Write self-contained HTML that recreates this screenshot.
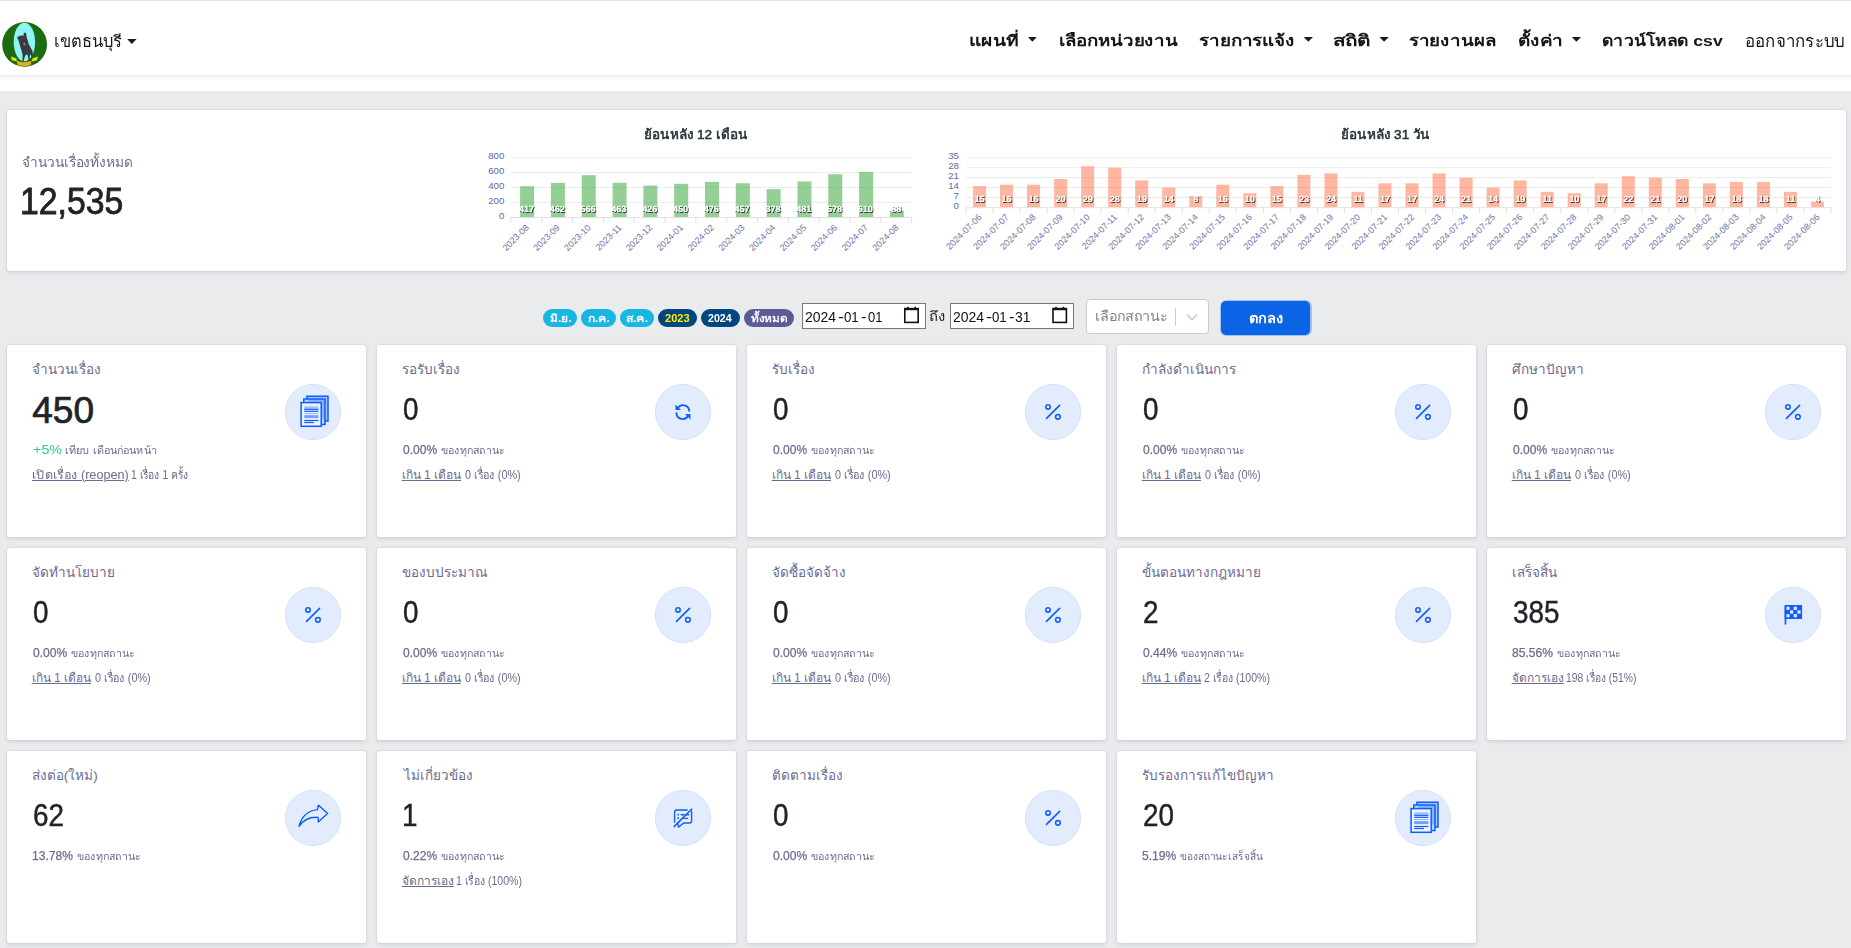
<!DOCTYPE html><html><head><meta charset="utf-8"><title>Dashboard</title><style>
*{box-sizing:border-box}
html,body{margin:0;padding:0}
body{width:1851px;height:948px;overflow:hidden;position:relative;background:#eaebed;font-family:"Liberation Sans",sans-serif}
.t{position:absolute;line-height:0;white-space:nowrap;transform-origin:0 0}
.abs{position:absolute}
.card{position:absolute;background:#fff;border-radius:2.8px;box-shadow:0 0 0 1px rgba(67,89,113,0.05),0 1.5px 4px rgba(67,89,113,0.14)}
.badge{position:absolute;height:18px;top:309px;border-radius:9px}
svg text{font-family:"Liberation Sans",sans-serif}
.ax{font-size:9px;fill:#6f73a6}
.ay{font-size:9.7px;fill:#63679b}
.dl{font-size:9px;font-weight:700;fill:#fff;text-rendering:geometricPrecision}
</style></head><body>
<div class="abs" style="left:0;top:0;width:1851px;height:91px;background:#fff"></div>
<div class="abs" style="left:0;top:0;width:1851px;height:1.3px;background:#e4e4e4"></div>
<div class="abs" style="left:0;top:75px;width:1851px;height:5px;background:linear-gradient(#eeeeee,#ffffff)"></div>
<div class="card" style="left:7px;top:110px;width:1839px;height:161px"></div>
<div class="card" style="left:7px;top:345px;width:359px;height:192px"></div>
<div class="card" style="left:377px;top:345px;width:359px;height:192px"></div>
<div class="card" style="left:747px;top:345px;width:359px;height:192px"></div>
<div class="card" style="left:1117px;top:345px;width:359px;height:192px"></div>
<div class="card" style="left:1487px;top:345px;width:359px;height:192px"></div>
<div class="card" style="left:7px;top:548px;width:359px;height:192px"></div>
<div class="card" style="left:377px;top:548px;width:359px;height:192px"></div>
<div class="card" style="left:747px;top:548px;width:359px;height:192px"></div>
<div class="card" style="left:1117px;top:548px;width:359px;height:192px"></div>
<div class="card" style="left:1487px;top:548px;width:359px;height:192px"></div>
<div class="card" style="left:7px;top:751px;width:359px;height:192px"></div>
<div class="card" style="left:377px;top:751px;width:359px;height:192px"></div>
<div class="card" style="left:747px;top:751px;width:359px;height:192px"></div>
<div class="card" style="left:1117px;top:751px;width:359px;height:192px"></div>
<div class="badge" style="left:542.9px;width:34.1px;background:#17b6e3"></div>
<div class="badge" style="left:581.0px;width:34.9px;background:#17b6e3"></div>
<div class="badge" style="left:620.0px;width:33.9px;background:#17b6e3"></div>
<div class="badge" style="left:658.1px;width:38.7px;background:#00477f"></div>
<div class="badge" style="left:701.0px;width:39.0px;background:#00477f"></div>
<div class="badge" style="left:744.0px;width:50.1px;background:#5b5c97"></div>
<div class="abs" style="left:802px;top:303.2px;width:123.6px;height:25.5px;background:#fff;border:1px solid #767676"></div>
<div class="abs" style="left:950.2px;top:303.2px;width:123.7px;height:25.5px;background:#fff;border:1px solid #767676"></div>
<div class="abs" style="left:1086.2px;top:299.4px;width:123.3px;height:34.4px;background:#fff;border:1px solid #cccccc;border-radius:4px"></div>
<div class="abs" style="left:1175px;top:308.2px;width:1px;height:17.5px;background:#cccccc"></div>
<div class="abs" style="left:1219.6px;top:299.6px;width:92px;height:36.6px;border-radius:6.5px;background:rgba(13,110,253,0.33)"></div>
<div class="abs" style="left:1221px;top:301px;width:89.2px;height:33.8px;border-radius:5px;background:#0b63e5"></div>
<div class="t" style="left:54.20px;top:40.88px;font-size:16.5px;color:#161616;transform:scaleX(0.9970);">เขตธนบุรี</div>
<div class="t" style="left:968.86px;top:41.33px;font-size:15.5px;font-weight:700;color:#161616;transform:scaleX(1.2385);">แผนที่</div>
<div class="t" style="left:1058.70px;top:41.33px;font-size:15.5px;font-weight:700;color:#161616;transform:scaleX(1.2041);">เลือกหน่วยงาน</div>
<div class="t" style="left:1198.69px;top:41.33px;font-size:15.5px;font-weight:700;color:#161616;transform:scaleX(1.2143);">รายการแจ้ง</div>
<div class="t" style="left:1333.36px;top:41.33px;font-size:15.5px;font-weight:700;color:#161616;transform:scaleX(1.3385);">สถิติ</div>
<div class="t" style="left:1409.49px;top:41.33px;font-size:15.5px;font-weight:700;color:#161616;transform:scaleX(1.2056);">รายงานผล</div>
<div class="t" style="left:1518.28px;top:41.33px;font-size:15.5px;font-weight:700;color:#161616;transform:scaleX(1.2229);">ตั้งค่า</div>
<div class="t" style="left:1602.46px;top:41.33px;font-size:15.5px;font-weight:700;color:#161616;transform:scaleX(1.1371);">ดาวน์โหลด csv</div>
<div class="t" style="left:1744.78px;top:40.98px;font-size:16.5px;color:#161616;transform:scaleX(1.0229);">ออกจากระบบ</div>
<div class="t" style="left:21.61px;top:163.42px;font-size:13.8px;color:#6b6b92;transform:scaleX(0.9918);">จำนวนเรื่องทั้งหมด</div>
<div class="t" style="left:20.26px;top:201.88px;font-size:37px;color:#202328;transform:scaleX(0.9128);-webkit-text-stroke:0.8px #202328;">12,535</div>
<div class="t" style="left:644.37px;top:134.83px;font-size:13.2px;color:#263238;transform:scaleX(1.0260);-webkit-text-stroke:0.5px #263238;">ย้อนหลัง 12 เดือน</div>
<div class="t" style="left:1341.17px;top:134.83px;font-size:13.2px;color:#263238;transform:scaleX(1.0282);-webkit-text-stroke:0.5px #263238;">ย้อนหลัง 31 วัน</div>
<div class="t" style="left:549.70px;top:318.16px;font-size:10.5px;font-weight:700;color:#fff;transform:scaleX(1.1389);">มิ.ย.</div>
<div class="t" style="left:587.95px;top:318.16px;font-size:10.5px;font-weight:700;color:#fff;transform:scaleX(1.1667);">ก.ค.</div>
<div class="t" style="left:625.77px;top:318.16px;font-size:10.5px;font-weight:700;color:#fff;transform:scaleX(1.1765);">ส.ค.</div>
<div class="t" style="left:665.30px;top:318.16px;font-size:10.5px;font-weight:700;color:#ffec00;transform:scaleX(1.0565);">2023</div>
<div class="t" style="left:708.30px;top:318.16px;font-size:10.5px;font-weight:700;color:#fff;transform:scaleX(1.0167);">2024</div>
<div class="t" style="left:751.15px;top:318.16px;font-size:10.5px;font-weight:700;color:#fff;transform:scaleX(1.1187);">ทั้งหมด</div>
<div class="t" style="left:804.90px;top:316.95px;font-size:14px;color:#111;transform:scaleX(0.9967);">2024</div>
<div class="t" style="left:837.50px;top:316.95px;font-size:14px;color:#111;transform:scaleX(1.3000);">-</div>
<div class="t" style="left:844.00px;top:316.95px;font-size:14px;color:#111;transform:scaleX(0.9467);">01</div>
<div class="t" style="left:860.93px;top:316.95px;font-size:14px;color:#111;transform:scaleX(1.1667);">-</div>
<div class="t" style="left:867.70px;top:316.95px;font-size:14px;color:#111;transform:scaleX(0.9267);">01</div>
<div class="t" style="left:929.30px;top:316.82px;font-size:13.5px;color:#222;transform:scaleX(1.1000);">ถึง</div>
<div class="t" style="left:953.10px;top:316.95px;font-size:14px;color:#111;transform:scaleX(0.9967);">2024</div>
<div class="t" style="left:985.70px;top:316.95px;font-size:14px;color:#111;transform:scaleX(1.3000);">-</div>
<div class="t" style="left:992.20px;top:316.95px;font-size:14px;color:#111;transform:scaleX(0.9467);">01</div>
<div class="t" style="left:1009.13px;top:316.95px;font-size:14px;color:#111;transform:scaleX(1.1667);">-</div>
<div class="t" style="left:1014.91px;top:316.95px;font-size:14px;color:#111;transform:scaleX(0.9929);">31</div>
<div class="t" style="left:1095.26px;top:317.32px;font-size:13.8px;color:#808080;transform:scaleX(1.0433);">เลือกสถานะ</div>
<div class="t" style="left:1248.55px;top:317.75px;font-size:14px;font-weight:700;color:#fff;transform:scaleX(1.0452);">ตกลง</div>
<div class="t" style="left:31.80px;top:369.62px;font-size:13.5px;color:#6b6b92;">จำนวนเรื่อง</div>
<div class="t" style="left:32.30px;top:411.18px;font-size:37px;color:#202328;-webkit-text-stroke:0.7px #202328;">450</div>
<div class="t" style="left:32.80px;top:449.50px;font-size:13px;color:#2fcb86;transform:scaleX(1.1040);">+5%</div>
<div class="t" style="left:65.28px;top:450.29px;font-size:10.7px;color:#6b6b92;transform:scaleX(1.0216);">เทียบ เดือนก่อนหน้า</div>
<div class="t" style="left:31.64px;top:475.14px;font-size:12px;color:#6b6b92;transform:scaleX(1.0556);text-decoration:underline;text-underline-offset:1px;text-decoration-thickness:1px;">เปิดเรื่อง (reopen)</div>
<div class="t" style="left:131.14px;top:475.14px;font-size:12px;color:#6b6b92;transform:scaleX(0.8641);">1 เรื่อง 1 ครั้ง</div>
<div class="t" style="left:401.80px;top:369.62px;font-size:13.5px;color:#6b6b92;">รอรับเรื่อง</div>
<div class="t" style="left:402.59px;top:409.30px;font-size:30.6px;color:#202328;transform:scaleX(0.9100);-webkit-text-stroke:0.45px #202328;">0</div>
<div class="t" style="left:402.80px;top:449.80px;font-size:12.7px;color:#6b6b92;transform:scaleX(0.9500);-webkit-text-stroke:0.25px #6b6b92;">0.00%</div>
<div class="t" style="left:441.30px;top:450.63px;font-size:10.3px;color:#6b6b92;transform:scaleX(1.0361);">ของทุกสถานะ</div>
<div class="t" style="left:401.70px;top:475.14px;font-size:12px;color:#6b6b92;text-decoration:underline;text-underline-offset:1px;text-decoration-thickness:1px;">เกิน 1 เดือน</div>
<div class="t" style="left:465.00px;top:475.14px;font-size:12px;color:#6b6b92;transform:scaleX(0.9033);">0 เรื่อง (0%)</div>
<div class="t" style="left:771.80px;top:369.62px;font-size:13.5px;color:#6b6b92;">รับเรื่อง</div>
<div class="t" style="left:772.59px;top:409.30px;font-size:30.6px;color:#202328;transform:scaleX(0.9100);-webkit-text-stroke:0.45px #202328;">0</div>
<div class="t" style="left:772.80px;top:449.80px;font-size:12.7px;color:#6b6b92;transform:scaleX(0.9500);-webkit-text-stroke:0.25px #6b6b92;">0.00%</div>
<div class="t" style="left:811.30px;top:450.63px;font-size:10.3px;color:#6b6b92;transform:scaleX(1.0361);">ของทุกสถานะ</div>
<div class="t" style="left:771.70px;top:475.14px;font-size:12px;color:#6b6b92;text-decoration:underline;text-underline-offset:1px;text-decoration-thickness:1px;">เกิน 1 เดือน</div>
<div class="t" style="left:835.00px;top:475.14px;font-size:12px;color:#6b6b92;transform:scaleX(0.9033);">0 เรื่อง (0%)</div>
<div class="t" style="left:1141.80px;top:369.62px;font-size:13.5px;color:#6b6b92;">กำลังดำเนินการ</div>
<div class="t" style="left:1142.59px;top:409.30px;font-size:30.6px;color:#202328;transform:scaleX(0.9100);-webkit-text-stroke:0.45px #202328;">0</div>
<div class="t" style="left:1142.80px;top:449.80px;font-size:12.7px;color:#6b6b92;transform:scaleX(0.9500);-webkit-text-stroke:0.25px #6b6b92;">0.00%</div>
<div class="t" style="left:1181.30px;top:450.63px;font-size:10.3px;color:#6b6b92;transform:scaleX(1.0361);">ของทุกสถานะ</div>
<div class="t" style="left:1141.70px;top:475.14px;font-size:12px;color:#6b6b92;text-decoration:underline;text-underline-offset:1px;text-decoration-thickness:1px;">เกิน 1 เดือน</div>
<div class="t" style="left:1205.00px;top:475.14px;font-size:12px;color:#6b6b92;transform:scaleX(0.9033);">0 เรื่อง (0%)</div>
<div class="t" style="left:1511.80px;top:369.62px;font-size:13.5px;color:#6b6b92;">ศึกษาปัญหา</div>
<div class="t" style="left:1512.59px;top:409.30px;font-size:30.6px;color:#202328;transform:scaleX(0.9100);-webkit-text-stroke:0.45px #202328;">0</div>
<div class="t" style="left:1512.80px;top:449.80px;font-size:12.7px;color:#6b6b92;transform:scaleX(0.9500);-webkit-text-stroke:0.25px #6b6b92;">0.00%</div>
<div class="t" style="left:1551.30px;top:450.63px;font-size:10.3px;color:#6b6b92;transform:scaleX(1.0361);">ของทุกสถานะ</div>
<div class="t" style="left:1511.70px;top:475.14px;font-size:12px;color:#6b6b92;text-decoration:underline;text-underline-offset:1px;text-decoration-thickness:1px;">เกิน 1 เดือน</div>
<div class="t" style="left:1575.00px;top:475.14px;font-size:12px;color:#6b6b92;transform:scaleX(0.9033);">0 เรื่อง (0%)</div>
<div class="t" style="left:31.80px;top:572.62px;font-size:13.5px;color:#6b6b92;">จัดทำนโยบาย</div>
<div class="t" style="left:32.59px;top:612.30px;font-size:30.6px;color:#202328;transform:scaleX(0.9100);-webkit-text-stroke:0.45px #202328;">0</div>
<div class="t" style="left:32.80px;top:652.80px;font-size:12.7px;color:#6b6b92;transform:scaleX(0.9500);-webkit-text-stroke:0.25px #6b6b92;">0.00%</div>
<div class="t" style="left:71.30px;top:653.63px;font-size:10.3px;color:#6b6b92;transform:scaleX(1.0361);">ของทุกสถานะ</div>
<div class="t" style="left:31.70px;top:678.14px;font-size:12px;color:#6b6b92;text-decoration:underline;text-underline-offset:1px;text-decoration-thickness:1px;">เกิน 1 เดือน</div>
<div class="t" style="left:95.00px;top:678.14px;font-size:12px;color:#6b6b92;transform:scaleX(0.9033);">0 เรื่อง (0%)</div>
<div class="t" style="left:401.80px;top:572.62px;font-size:13.5px;color:#6b6b92;">ของบประมาณ</div>
<div class="t" style="left:402.59px;top:612.30px;font-size:30.6px;color:#202328;transform:scaleX(0.9100);-webkit-text-stroke:0.45px #202328;">0</div>
<div class="t" style="left:402.80px;top:652.80px;font-size:12.7px;color:#6b6b92;transform:scaleX(0.9500);-webkit-text-stroke:0.25px #6b6b92;">0.00%</div>
<div class="t" style="left:441.30px;top:653.63px;font-size:10.3px;color:#6b6b92;transform:scaleX(1.0361);">ของทุกสถานะ</div>
<div class="t" style="left:401.70px;top:678.14px;font-size:12px;color:#6b6b92;text-decoration:underline;text-underline-offset:1px;text-decoration-thickness:1px;">เกิน 1 เดือน</div>
<div class="t" style="left:465.00px;top:678.14px;font-size:12px;color:#6b6b92;transform:scaleX(0.9033);">0 เรื่อง (0%)</div>
<div class="t" style="left:771.80px;top:572.62px;font-size:13.5px;color:#6b6b92;">จัดซื้อจัดจ้าง</div>
<div class="t" style="left:772.59px;top:612.30px;font-size:30.6px;color:#202328;transform:scaleX(0.9100);-webkit-text-stroke:0.45px #202328;">0</div>
<div class="t" style="left:772.80px;top:652.80px;font-size:12.7px;color:#6b6b92;transform:scaleX(0.9500);-webkit-text-stroke:0.25px #6b6b92;">0.00%</div>
<div class="t" style="left:811.30px;top:653.63px;font-size:10.3px;color:#6b6b92;transform:scaleX(1.0361);">ของทุกสถานะ</div>
<div class="t" style="left:771.70px;top:678.14px;font-size:12px;color:#6b6b92;text-decoration:underline;text-underline-offset:1px;text-decoration-thickness:1px;">เกิน 1 เดือน</div>
<div class="t" style="left:835.00px;top:678.14px;font-size:12px;color:#6b6b92;transform:scaleX(0.9033);">0 เรื่อง (0%)</div>
<div class="t" style="left:1141.80px;top:572.62px;font-size:13.5px;color:#6b6b92;">ขั้นตอนทางกฎหมาย</div>
<div class="t" style="left:1142.59px;top:612.30px;font-size:30.6px;color:#202328;transform:scaleX(0.9100);-webkit-text-stroke:0.45px #202328;">2</div>
<div class="t" style="left:1142.80px;top:652.80px;font-size:12.7px;color:#6b6b92;transform:scaleX(0.9500);-webkit-text-stroke:0.25px #6b6b92;">0.44%</div>
<div class="t" style="left:1181.30px;top:653.63px;font-size:10.3px;color:#6b6b92;transform:scaleX(1.0361);">ของทุกสถานะ</div>
<div class="t" style="left:1141.70px;top:678.14px;font-size:12px;color:#6b6b92;text-decoration:underline;text-underline-offset:1px;text-decoration-thickness:1px;">เกิน 1 เดือน</div>
<div class="t" style="left:1204.12px;top:678.14px;font-size:12px;color:#6b6b92;transform:scaleX(0.8800);">2 เรื่อง (100%)</div>
<div class="t" style="left:1511.80px;top:572.62px;font-size:13.5px;color:#6b6b92;">เสร็จสิ้น</div>
<div class="t" style="left:1512.59px;top:612.30px;font-size:30.6px;color:#202328;transform:scaleX(0.9100);-webkit-text-stroke:0.45px #202328;">385</div>
<div class="t" style="left:1511.85px;top:652.80px;font-size:12.7px;color:#6b6b92;transform:scaleX(0.9500);-webkit-text-stroke:0.25px #6b6b92;">85.56%</div>
<div class="t" style="left:1557.00px;top:653.63px;font-size:10.3px;color:#6b6b92;transform:scaleX(1.0361);">ของทุกสถานะ</div>
<div class="t" style="left:1511.70px;top:678.14px;font-size:12px;color:#6b6b92;text-decoration:underline;text-underline-offset:1px;text-decoration-thickness:1px;">จัดการเอง</div>
<div class="t" style="left:1566.14px;top:678.14px;font-size:12px;color:#6b6b92;transform:scaleX(0.8613);">198 เรื่อง (51%)</div>
<div class="t" style="left:31.80px;top:775.62px;font-size:13.5px;color:#6b6b92;">ส่งต่อ(ใหม่)</div>
<div class="t" style="left:32.59px;top:815.30px;font-size:30.6px;color:#202328;transform:scaleX(0.9100);-webkit-text-stroke:0.45px #202328;">62</div>
<div class="t" style="left:31.85px;top:855.80px;font-size:12.7px;color:#6b6b92;transform:scaleX(0.9500);-webkit-text-stroke:0.25px #6b6b92;">13.78%</div>
<div class="t" style="left:77.00px;top:856.63px;font-size:10.3px;color:#6b6b92;transform:scaleX(1.0361);">ของทุกสถานะ</div>
<div class="t" style="left:403.80px;top:775.62px;font-size:13.5px;color:#6b6b92;">ไม่เกี่ยวข้อง</div>
<div class="t" style="left:401.68px;top:815.30px;font-size:30.6px;color:#202328;transform:scaleX(0.9100);-webkit-text-stroke:0.45px #202328;">1</div>
<div class="t" style="left:402.80px;top:855.80px;font-size:12.7px;color:#6b6b92;transform:scaleX(0.9500);-webkit-text-stroke:0.25px #6b6b92;">0.22%</div>
<div class="t" style="left:441.30px;top:856.63px;font-size:10.3px;color:#6b6b92;transform:scaleX(1.0361);">ของทุกสถานะ</div>
<div class="t" style="left:401.70px;top:881.14px;font-size:12px;color:#6b6b92;text-decoration:underline;text-underline-offset:1px;text-decoration-thickness:1px;">จัดการเอง</div>
<div class="t" style="left:456.12px;top:881.14px;font-size:12px;color:#6b6b92;transform:scaleX(0.8800);">1 เรื่อง (100%)</div>
<div class="t" style="left:771.80px;top:775.62px;font-size:13.5px;color:#6b6b92;">ติดตามเรื่อง</div>
<div class="t" style="left:772.59px;top:815.30px;font-size:30.6px;color:#202328;transform:scaleX(0.9100);-webkit-text-stroke:0.45px #202328;">0</div>
<div class="t" style="left:772.80px;top:855.80px;font-size:12.7px;color:#6b6b92;transform:scaleX(0.9500);-webkit-text-stroke:0.25px #6b6b92;">0.00%</div>
<div class="t" style="left:811.30px;top:856.63px;font-size:10.3px;color:#6b6b92;transform:scaleX(1.0361);">ของทุกสถานะ</div>
<div class="t" style="left:1141.80px;top:775.62px;font-size:13.5px;color:#6b6b92;">รับรองการแก้ไขปัญหา</div>
<div class="t" style="left:1142.59px;top:815.30px;font-size:30.6px;color:#202328;transform:scaleX(0.9100);-webkit-text-stroke:0.45px #202328;">20</div>
<div class="t" style="left:1141.85px;top:855.80px;font-size:12.7px;color:#6b6b92;transform:scaleX(0.9500);-webkit-text-stroke:0.25px #6b6b92;">5.19%</div>
<div class="t" style="left:1180.35px;top:856.63px;font-size:10.3px;color:#6b6b92;transform:scaleX(0.9845);">ของสถานะเสร็จสิ้น</div>
<svg class="abs" style="left:0;top:0" width="1851" height="948" viewBox="0 0 1851 948">
<defs><filter id="ds" x="-30%" y="-50%" width="160%" height="200%"><feGaussianBlur in="SourceAlpha" stdDeviation="0.75"/><feOffset dx="1" dy="1" result="o"/><feFlood flood-color="#000" flood-opacity="0.7"/><feComposite in2="o" operator="in"/><feMerge><feMergeNode/><feMergeNode in="SourceGraphic"/></feMerge></filter></defs>
<g><circle cx="24.6" cy="44.4" r="22.4" fill="#1c6b12"/><ellipse cx="24.4" cy="42" rx="10.7" ry="19.3" fill="#8ef4f4"/><path d="M17.2 37.6 L18.4 35.6 L20.2 35.9 L22.4 35.2 L23.3 36.3 L23.6 34.8 Q23.4 32.6 25 32.6 Q26.7 32.8 26.3 34.8 L26.6 37 L27.6 40 L28.6 44 L30.6 47.5 L32.6 51.5 L32.9 55.5 L31.6 57 L30.2 54 L29.6 57.5 L30 61 L28.7 61 L27.6 55 L26.2 54.2 L24.6 57 L23.8 61 L22.4 61 L22.6 55 L21.3 50 L19.8 45 L18.8 41 L17.9 39.6 Z" fill="#3b3940"/><line x1="17.6" y1="30.5" x2="18.4" y2="37" stroke="#c8e8e8" stroke-width="0.7"/><path d="M23 44 L26 46 L24.5 42.5 Z" fill="#cfd6d8" opacity="0.6"/><path d="M11 56.4 L16.4 58.5 L17 61.5 L11.8 60.2 Z" fill="#e8e010"/><path d="M37.8 56.4 L32.4 58.5 L31.8 61.5 L37 60.2 Z" fill="#e8e010"/><path d="M16.8 60.8 Q24 63.5 31.5 60.8 L30.7 65 Q24 67 17.6 65 Z" fill="#e0b020"/></g>
<path d="M127.2 39.0H136.6L131.9 43.9Z" fill="#1a1a1a"/>
<path d="M1028.0 36.9H1036.8L1032.4 41.8Z" fill="#1a1a1a"/>
<path d="M1303.7 36.9H1313.0L1308.3 41.8Z" fill="#1a1a1a"/>
<path d="M1379.4 36.9H1388.8L1384.1 41.8Z" fill="#1a1a1a"/>
<path d="M1571.8 36.9H1581.0L1576.4 41.8Z" fill="#1a1a1a"/>
<line x1="511" y1="157.80" x2="911.6" y2="157.80" stroke="#ebebeb" stroke-width="1"/>
<line x1="511" y1="172.65" x2="911.6" y2="172.65" stroke="#ebebeb" stroke-width="1"/>
<line x1="511" y1="187.50" x2="911.6" y2="187.50" stroke="#ebebeb" stroke-width="1"/>
<line x1="511" y1="202.35" x2="911.6" y2="202.35" stroke="#ebebeb" stroke-width="1"/>
<text x="504.3" y="159.10" text-anchor="end" class="ay">800</text>
<text x="504.3" y="173.95" text-anchor="end" class="ay">600</text>
<text x="504.3" y="188.80" text-anchor="end" class="ay">400</text>
<text x="504.3" y="203.65" text-anchor="end" class="ay">200</text>
<text x="504.3" y="218.50" text-anchor="end" class="ay">0</text>
<rect x="520.11" y="186.24" width="14.00" height="30.96" fill="rgba(76,175,80,0.6)"/>
<rect x="550.92" y="182.90" width="14.00" height="34.30" fill="rgba(76,175,80,0.6)"/>
<rect x="581.74" y="175.17" width="14.00" height="42.03" fill="rgba(76,175,80,0.6)"/>
<rect x="612.55" y="182.82" width="14.00" height="34.38" fill="rgba(76,175,80,0.6)"/>
<rect x="643.37" y="185.57" width="14.00" height="31.63" fill="rgba(76,175,80,0.6)"/>
<rect x="674.18" y="183.79" width="14.00" height="33.41" fill="rgba(76,175,80,0.6)"/>
<rect x="705.00" y="181.86" width="14.00" height="35.34" fill="rgba(76,175,80,0.6)"/>
<rect x="735.82" y="183.27" width="14.00" height="33.93" fill="rgba(76,175,80,0.6)"/>
<rect x="766.63" y="189.13" width="14.00" height="28.07" fill="rgba(76,175,80,0.6)"/>
<rect x="797.45" y="181.49" width="14.00" height="35.71" fill="rgba(76,175,80,0.6)"/>
<rect x="828.26" y="174.28" width="14.00" height="42.92" fill="rgba(76,175,80,0.6)"/>
<rect x="859.08" y="171.91" width="14.00" height="45.29" fill="rgba(76,175,80,0.6)"/>
<rect x="889.89" y="210.67" width="14.00" height="6.53" fill="rgba(76,175,80,0.6)"/>
<line x1="511" y1="217.50" x2="911.6" y2="217.50" stroke="#e0e0e0" stroke-width="1"/>
<line x1="511.00" y1="217.20" x2="511.00" y2="223.20" stroke="#e0e0e0" stroke-width="1"/>
<line x1="541.82" y1="217.20" x2="541.82" y2="223.20" stroke="#e0e0e0" stroke-width="1"/>
<line x1="572.63" y1="217.20" x2="572.63" y2="223.20" stroke="#e0e0e0" stroke-width="1"/>
<line x1="603.45" y1="217.20" x2="603.45" y2="223.20" stroke="#e0e0e0" stroke-width="1"/>
<line x1="634.26" y1="217.20" x2="634.26" y2="223.20" stroke="#e0e0e0" stroke-width="1"/>
<line x1="665.08" y1="217.20" x2="665.08" y2="223.20" stroke="#e0e0e0" stroke-width="1"/>
<line x1="695.89" y1="217.20" x2="695.89" y2="223.20" stroke="#e0e0e0" stroke-width="1"/>
<line x1="726.71" y1="217.20" x2="726.71" y2="223.20" stroke="#e0e0e0" stroke-width="1"/>
<line x1="757.52" y1="217.20" x2="757.52" y2="223.20" stroke="#e0e0e0" stroke-width="1"/>
<line x1="788.34" y1="217.20" x2="788.34" y2="223.20" stroke="#e0e0e0" stroke-width="1"/>
<line x1="819.15" y1="217.20" x2="819.15" y2="223.20" stroke="#e0e0e0" stroke-width="1"/>
<line x1="849.97" y1="217.20" x2="849.97" y2="223.20" stroke="#e0e0e0" stroke-width="1"/>
<line x1="880.78" y1="217.20" x2="880.78" y2="223.20" stroke="#e0e0e0" stroke-width="1"/>
<line x1="911.60" y1="217.20" x2="911.60" y2="223.20" stroke="#e0e0e0" stroke-width="1"/>
<text x="526.41" y="211.80" text-anchor="middle" class="dl" filter="url(#ds)">417</text>
<text x="557.22" y="211.80" text-anchor="middle" class="dl" filter="url(#ds)">462</text>
<text x="588.04" y="211.80" text-anchor="middle" class="dl" filter="url(#ds)">566</text>
<text x="618.85" y="211.80" text-anchor="middle" class="dl" filter="url(#ds)">463</text>
<text x="649.67" y="211.80" text-anchor="middle" class="dl" filter="url(#ds)">426</text>
<text x="680.48" y="211.80" text-anchor="middle" class="dl" filter="url(#ds)">450</text>
<text x="711.30" y="211.80" text-anchor="middle" class="dl" filter="url(#ds)">476</text>
<text x="742.12" y="211.80" text-anchor="middle" class="dl" filter="url(#ds)">457</text>
<text x="772.93" y="211.80" text-anchor="middle" class="dl" filter="url(#ds)">378</text>
<text x="803.75" y="211.80" text-anchor="middle" class="dl" filter="url(#ds)">481</text>
<text x="834.56" y="211.80" text-anchor="middle" class="dl" filter="url(#ds)">578</text>
<text x="865.38" y="211.80" text-anchor="middle" class="dl" filter="url(#ds)">610</text>
<text x="896.19" y="211.80" text-anchor="middle" class="dl" filter="url(#ds)">88</text>
<text x="529.61" y="228.10" text-anchor="end" class="ax" transform="rotate(-45 529.61 228.10)">2023-08</text>
<text x="560.42" y="228.10" text-anchor="end" class="ax" transform="rotate(-45 560.42 228.10)">2023-09</text>
<text x="591.24" y="228.10" text-anchor="end" class="ax" transform="rotate(-45 591.24 228.10)">2023-10</text>
<text x="622.05" y="228.10" text-anchor="end" class="ax" transform="rotate(-45 622.05 228.10)">2023-11</text>
<text x="652.87" y="228.10" text-anchor="end" class="ax" transform="rotate(-45 652.87 228.10)">2023-12</text>
<text x="683.68" y="228.10" text-anchor="end" class="ax" transform="rotate(-45 683.68 228.10)">2024-01</text>
<text x="714.50" y="228.10" text-anchor="end" class="ax" transform="rotate(-45 714.50 228.10)">2024-02</text>
<text x="745.32" y="228.10" text-anchor="end" class="ax" transform="rotate(-45 745.32 228.10)">2024-03</text>
<text x="776.13" y="228.10" text-anchor="end" class="ax" transform="rotate(-45 776.13 228.10)">2024-04</text>
<text x="806.95" y="228.10" text-anchor="end" class="ax" transform="rotate(-45 806.95 228.10)">2024-05</text>
<text x="837.76" y="228.10" text-anchor="end" class="ax" transform="rotate(-45 837.76 228.10)">2024-06</text>
<text x="868.58" y="228.10" text-anchor="end" class="ax" transform="rotate(-45 868.58 228.10)">2024-07</text>
<text x="899.39" y="228.10" text-anchor="end" class="ax" transform="rotate(-45 899.39 228.10)">2024-08</text>
<line x1="966" y1="157.80" x2="1831" y2="157.80" stroke="#ebebeb" stroke-width="1"/>
<line x1="966" y1="167.72" x2="1831" y2="167.72" stroke="#ebebeb" stroke-width="1"/>
<line x1="966" y1="177.64" x2="1831" y2="177.64" stroke="#ebebeb" stroke-width="1"/>
<line x1="966" y1="187.56" x2="1831" y2="187.56" stroke="#ebebeb" stroke-width="1"/>
<line x1="966" y1="197.48" x2="1831" y2="197.48" stroke="#ebebeb" stroke-width="1"/>
<text x="959" y="159.10" text-anchor="end" class="ay">35</text>
<text x="959" y="169.02" text-anchor="end" class="ay">28</text>
<text x="959" y="178.94" text-anchor="end" class="ay">21</text>
<text x="959" y="188.86" text-anchor="end" class="ay">14</text>
<text x="959" y="198.78" text-anchor="end" class="ay">7</text>
<text x="959" y="208.70" text-anchor="end" class="ay">0</text>
<rect x="973.02" y="186.14" width="13.00" height="21.26" fill="rgba(255,112,67,0.5)"/>
<rect x="1000.05" y="184.73" width="13.00" height="22.67" fill="rgba(255,112,67,0.5)"/>
<rect x="1027.08" y="184.73" width="13.00" height="22.67" fill="rgba(255,112,67,0.5)"/>
<rect x="1054.11" y="179.06" width="13.00" height="28.34" fill="rgba(255,112,67,0.5)"/>
<rect x="1081.14" y="166.30" width="13.00" height="41.10" fill="rgba(255,112,67,0.5)"/>
<rect x="1108.17" y="167.72" width="13.00" height="39.68" fill="rgba(255,112,67,0.5)"/>
<rect x="1135.20" y="180.47" width="13.00" height="26.93" fill="rgba(255,112,67,0.5)"/>
<rect x="1162.23" y="187.56" width="13.00" height="19.84" fill="rgba(255,112,67,0.5)"/>
<rect x="1189.27" y="196.06" width="13.00" height="11.34" fill="rgba(255,112,67,0.5)"/>
<rect x="1216.30" y="184.73" width="13.00" height="22.67" fill="rgba(255,112,67,0.5)"/>
<rect x="1243.33" y="193.23" width="13.00" height="14.17" fill="rgba(255,112,67,0.5)"/>
<rect x="1270.36" y="186.14" width="13.00" height="21.26" fill="rgba(255,112,67,0.5)"/>
<rect x="1297.39" y="174.81" width="13.00" height="32.59" fill="rgba(255,112,67,0.5)"/>
<rect x="1324.42" y="173.39" width="13.00" height="34.01" fill="rgba(255,112,67,0.5)"/>
<rect x="1351.45" y="191.81" width="13.00" height="15.59" fill="rgba(255,112,67,0.5)"/>
<rect x="1378.48" y="183.31" width="13.00" height="24.09" fill="rgba(255,112,67,0.5)"/>
<rect x="1405.52" y="183.31" width="13.00" height="24.09" fill="rgba(255,112,67,0.5)"/>
<rect x="1432.55" y="173.39" width="13.00" height="34.01" fill="rgba(255,112,67,0.5)"/>
<rect x="1459.58" y="177.64" width="13.00" height="29.76" fill="rgba(255,112,67,0.5)"/>
<rect x="1486.61" y="187.56" width="13.00" height="19.84" fill="rgba(255,112,67,0.5)"/>
<rect x="1513.64" y="180.47" width="13.00" height="26.93" fill="rgba(255,112,67,0.5)"/>
<rect x="1540.67" y="191.81" width="13.00" height="15.59" fill="rgba(255,112,67,0.5)"/>
<rect x="1567.70" y="193.23" width="13.00" height="14.17" fill="rgba(255,112,67,0.5)"/>
<rect x="1594.73" y="183.31" width="13.00" height="24.09" fill="rgba(255,112,67,0.5)"/>
<rect x="1621.77" y="176.22" width="13.00" height="31.18" fill="rgba(255,112,67,0.5)"/>
<rect x="1648.80" y="177.64" width="13.00" height="29.76" fill="rgba(255,112,67,0.5)"/>
<rect x="1675.83" y="179.06" width="13.00" height="28.34" fill="rgba(255,112,67,0.5)"/>
<rect x="1702.86" y="183.31" width="13.00" height="24.09" fill="rgba(255,112,67,0.5)"/>
<rect x="1729.89" y="181.89" width="13.00" height="25.51" fill="rgba(255,112,67,0.5)"/>
<rect x="1756.92" y="181.89" width="13.00" height="25.51" fill="rgba(255,112,67,0.5)"/>
<rect x="1783.95" y="191.81" width="13.00" height="15.59" fill="rgba(255,112,67,0.5)"/>
<rect x="1810.98" y="201.73" width="13.00" height="5.67" fill="rgba(255,112,67,0.5)"/>
<line x1="966" y1="207.70" x2="1831" y2="207.70" stroke="#e0e0e0" stroke-width="1"/>
<line x1="966.00" y1="207.40" x2="966.00" y2="213.40" stroke="#e0e0e0" stroke-width="1"/>
<line x1="993.03" y1="207.40" x2="993.03" y2="213.40" stroke="#e0e0e0" stroke-width="1"/>
<line x1="1020.06" y1="207.40" x2="1020.06" y2="213.40" stroke="#e0e0e0" stroke-width="1"/>
<line x1="1047.09" y1="207.40" x2="1047.09" y2="213.40" stroke="#e0e0e0" stroke-width="1"/>
<line x1="1074.12" y1="207.40" x2="1074.12" y2="213.40" stroke="#e0e0e0" stroke-width="1"/>
<line x1="1101.16" y1="207.40" x2="1101.16" y2="213.40" stroke="#e0e0e0" stroke-width="1"/>
<line x1="1128.19" y1="207.40" x2="1128.19" y2="213.40" stroke="#e0e0e0" stroke-width="1"/>
<line x1="1155.22" y1="207.40" x2="1155.22" y2="213.40" stroke="#e0e0e0" stroke-width="1"/>
<line x1="1182.25" y1="207.40" x2="1182.25" y2="213.40" stroke="#e0e0e0" stroke-width="1"/>
<line x1="1209.28" y1="207.40" x2="1209.28" y2="213.40" stroke="#e0e0e0" stroke-width="1"/>
<line x1="1236.31" y1="207.40" x2="1236.31" y2="213.40" stroke="#e0e0e0" stroke-width="1"/>
<line x1="1263.34" y1="207.40" x2="1263.34" y2="213.40" stroke="#e0e0e0" stroke-width="1"/>
<line x1="1290.38" y1="207.40" x2="1290.38" y2="213.40" stroke="#e0e0e0" stroke-width="1"/>
<line x1="1317.41" y1="207.40" x2="1317.41" y2="213.40" stroke="#e0e0e0" stroke-width="1"/>
<line x1="1344.44" y1="207.40" x2="1344.44" y2="213.40" stroke="#e0e0e0" stroke-width="1"/>
<line x1="1371.47" y1="207.40" x2="1371.47" y2="213.40" stroke="#e0e0e0" stroke-width="1"/>
<line x1="1398.50" y1="207.40" x2="1398.50" y2="213.40" stroke="#e0e0e0" stroke-width="1"/>
<line x1="1425.53" y1="207.40" x2="1425.53" y2="213.40" stroke="#e0e0e0" stroke-width="1"/>
<line x1="1452.56" y1="207.40" x2="1452.56" y2="213.40" stroke="#e0e0e0" stroke-width="1"/>
<line x1="1479.59" y1="207.40" x2="1479.59" y2="213.40" stroke="#e0e0e0" stroke-width="1"/>
<line x1="1506.62" y1="207.40" x2="1506.62" y2="213.40" stroke="#e0e0e0" stroke-width="1"/>
<line x1="1533.66" y1="207.40" x2="1533.66" y2="213.40" stroke="#e0e0e0" stroke-width="1"/>
<line x1="1560.69" y1="207.40" x2="1560.69" y2="213.40" stroke="#e0e0e0" stroke-width="1"/>
<line x1="1587.72" y1="207.40" x2="1587.72" y2="213.40" stroke="#e0e0e0" stroke-width="1"/>
<line x1="1614.75" y1="207.40" x2="1614.75" y2="213.40" stroke="#e0e0e0" stroke-width="1"/>
<line x1="1641.78" y1="207.40" x2="1641.78" y2="213.40" stroke="#e0e0e0" stroke-width="1"/>
<line x1="1668.81" y1="207.40" x2="1668.81" y2="213.40" stroke="#e0e0e0" stroke-width="1"/>
<line x1="1695.84" y1="207.40" x2="1695.84" y2="213.40" stroke="#e0e0e0" stroke-width="1"/>
<line x1="1722.88" y1="207.40" x2="1722.88" y2="213.40" stroke="#e0e0e0" stroke-width="1"/>
<line x1="1749.91" y1="207.40" x2="1749.91" y2="213.40" stroke="#e0e0e0" stroke-width="1"/>
<line x1="1776.94" y1="207.40" x2="1776.94" y2="213.40" stroke="#e0e0e0" stroke-width="1"/>
<line x1="1803.97" y1="207.40" x2="1803.97" y2="213.40" stroke="#e0e0e0" stroke-width="1"/>
<line x1="1831.00" y1="207.40" x2="1831.00" y2="213.40" stroke="#e0e0e0" stroke-width="1"/>
<text x="979.52" y="202.40" text-anchor="middle" class="dl" filter="url(#ds)">15</text>
<text x="1006.55" y="202.40" text-anchor="middle" class="dl" filter="url(#ds)">16</text>
<text x="1033.58" y="202.40" text-anchor="middle" class="dl" filter="url(#ds)">16</text>
<text x="1060.61" y="202.40" text-anchor="middle" class="dl" filter="url(#ds)">20</text>
<text x="1087.64" y="202.40" text-anchor="middle" class="dl" filter="url(#ds)">29</text>
<text x="1114.67" y="202.40" text-anchor="middle" class="dl" filter="url(#ds)">28</text>
<text x="1141.70" y="202.40" text-anchor="middle" class="dl" filter="url(#ds)">19</text>
<text x="1168.73" y="202.40" text-anchor="middle" class="dl" filter="url(#ds)">14</text>
<text x="1195.77" y="202.40" text-anchor="middle" class="dl" filter="url(#ds)">8</text>
<text x="1222.80" y="202.40" text-anchor="middle" class="dl" filter="url(#ds)">16</text>
<text x="1249.83" y="202.40" text-anchor="middle" class="dl" filter="url(#ds)">10</text>
<text x="1276.86" y="202.40" text-anchor="middle" class="dl" filter="url(#ds)">15</text>
<text x="1303.89" y="202.40" text-anchor="middle" class="dl" filter="url(#ds)">23</text>
<text x="1330.92" y="202.40" text-anchor="middle" class="dl" filter="url(#ds)">24</text>
<text x="1357.95" y="202.40" text-anchor="middle" class="dl" filter="url(#ds)">11</text>
<text x="1384.98" y="202.40" text-anchor="middle" class="dl" filter="url(#ds)">17</text>
<text x="1412.02" y="202.40" text-anchor="middle" class="dl" filter="url(#ds)">17</text>
<text x="1439.05" y="202.40" text-anchor="middle" class="dl" filter="url(#ds)">24</text>
<text x="1466.08" y="202.40" text-anchor="middle" class="dl" filter="url(#ds)">21</text>
<text x="1493.11" y="202.40" text-anchor="middle" class="dl" filter="url(#ds)">14</text>
<text x="1520.14" y="202.40" text-anchor="middle" class="dl" filter="url(#ds)">19</text>
<text x="1547.17" y="202.40" text-anchor="middle" class="dl" filter="url(#ds)">11</text>
<text x="1574.20" y="202.40" text-anchor="middle" class="dl" filter="url(#ds)">10</text>
<text x="1601.23" y="202.40" text-anchor="middle" class="dl" filter="url(#ds)">17</text>
<text x="1628.27" y="202.40" text-anchor="middle" class="dl" filter="url(#ds)">22</text>
<text x="1655.30" y="202.40" text-anchor="middle" class="dl" filter="url(#ds)">21</text>
<text x="1682.33" y="202.40" text-anchor="middle" class="dl" filter="url(#ds)">20</text>
<text x="1709.36" y="202.40" text-anchor="middle" class="dl" filter="url(#ds)">17</text>
<text x="1736.39" y="202.40" text-anchor="middle" class="dl" filter="url(#ds)">18</text>
<text x="1763.42" y="202.40" text-anchor="middle" class="dl" filter="url(#ds)">18</text>
<text x="1790.45" y="202.40" text-anchor="middle" class="dl" filter="url(#ds)">11</text>
<text x="1817.48" y="202.40" text-anchor="middle" class="dl" filter="url(#ds)">4</text>
<text x="982.32" y="217.80" text-anchor="end" class="ax" transform="rotate(-45 982.32 217.80)">2024-07-06</text>
<text x="1009.35" y="217.80" text-anchor="end" class="ax" transform="rotate(-45 1009.35 217.80)">2024-07-07</text>
<text x="1036.38" y="217.80" text-anchor="end" class="ax" transform="rotate(-45 1036.38 217.80)">2024-07-08</text>
<text x="1063.41" y="217.80" text-anchor="end" class="ax" transform="rotate(-45 1063.41 217.80)">2024-07-09</text>
<text x="1090.44" y="217.80" text-anchor="end" class="ax" transform="rotate(-45 1090.44 217.80)">2024-07-10</text>
<text x="1117.47" y="217.80" text-anchor="end" class="ax" transform="rotate(-45 1117.47 217.80)">2024-07-11</text>
<text x="1144.50" y="217.80" text-anchor="end" class="ax" transform="rotate(-45 1144.50 217.80)">2024-07-12</text>
<text x="1171.53" y="217.80" text-anchor="end" class="ax" transform="rotate(-45 1171.53 217.80)">2024-07-13</text>
<text x="1198.57" y="217.80" text-anchor="end" class="ax" transform="rotate(-45 1198.57 217.80)">2024-07-14</text>
<text x="1225.60" y="217.80" text-anchor="end" class="ax" transform="rotate(-45 1225.60 217.80)">2024-07-15</text>
<text x="1252.63" y="217.80" text-anchor="end" class="ax" transform="rotate(-45 1252.63 217.80)">2024-07-16</text>
<text x="1279.66" y="217.80" text-anchor="end" class="ax" transform="rotate(-45 1279.66 217.80)">2024-07-17</text>
<text x="1306.69" y="217.80" text-anchor="end" class="ax" transform="rotate(-45 1306.69 217.80)">2024-07-18</text>
<text x="1333.72" y="217.80" text-anchor="end" class="ax" transform="rotate(-45 1333.72 217.80)">2024-07-19</text>
<text x="1360.75" y="217.80" text-anchor="end" class="ax" transform="rotate(-45 1360.75 217.80)">2024-07-20</text>
<text x="1387.78" y="217.80" text-anchor="end" class="ax" transform="rotate(-45 1387.78 217.80)">2024-07-21</text>
<text x="1414.82" y="217.80" text-anchor="end" class="ax" transform="rotate(-45 1414.82 217.80)">2024-07-22</text>
<text x="1441.85" y="217.80" text-anchor="end" class="ax" transform="rotate(-45 1441.85 217.80)">2024-07-23</text>
<text x="1468.88" y="217.80" text-anchor="end" class="ax" transform="rotate(-45 1468.88 217.80)">2024-07-24</text>
<text x="1495.91" y="217.80" text-anchor="end" class="ax" transform="rotate(-45 1495.91 217.80)">2024-07-25</text>
<text x="1522.94" y="217.80" text-anchor="end" class="ax" transform="rotate(-45 1522.94 217.80)">2024-07-26</text>
<text x="1549.97" y="217.80" text-anchor="end" class="ax" transform="rotate(-45 1549.97 217.80)">2024-07-27</text>
<text x="1577.00" y="217.80" text-anchor="end" class="ax" transform="rotate(-45 1577.00 217.80)">2024-07-28</text>
<text x="1604.03" y="217.80" text-anchor="end" class="ax" transform="rotate(-45 1604.03 217.80)">2024-07-29</text>
<text x="1631.07" y="217.80" text-anchor="end" class="ax" transform="rotate(-45 1631.07 217.80)">2024-07-30</text>
<text x="1658.10" y="217.80" text-anchor="end" class="ax" transform="rotate(-45 1658.10 217.80)">2024-07-31</text>
<text x="1685.13" y="217.80" text-anchor="end" class="ax" transform="rotate(-45 1685.13 217.80)">2024-08-01</text>
<text x="1712.16" y="217.80" text-anchor="end" class="ax" transform="rotate(-45 1712.16 217.80)">2024-08-02</text>
<text x="1739.19" y="217.80" text-anchor="end" class="ax" transform="rotate(-45 1739.19 217.80)">2024-08-03</text>
<text x="1766.22" y="217.80" text-anchor="end" class="ax" transform="rotate(-45 1766.22 217.80)">2024-08-04</text>
<text x="1793.25" y="217.80" text-anchor="end" class="ax" transform="rotate(-45 1793.25 217.80)">2024-08-05</text>
<text x="1820.28" y="217.80" text-anchor="end" class="ax" transform="rotate(-45 1820.28 217.80)">2024-08-06</text>
<circle cx="313" cy="412" r="27.6" fill="#e3ecfd" stroke="#cfdefc" stroke-width="0.9"/>
<g transform="translate(0 0)"><path d="M306.9 399V396.2H328V421.1H325" fill="rgba(13,94,252,0.28)" stroke="#0d5efc" stroke-width="1.5"/><path d="M303.8 402V399H325V424.4H321.9" fill="rgba(13,94,252,0.18)" stroke="#0d5efc" stroke-width="1.5"/><rect x="301.1" y="402.6" width="20.1" height="23.7" fill="#eef3ff" stroke="#0d5efc" stroke-width="1.5"/><g fill="#0d5efc"><rect x="304.2" y="406.3" width="14.2" height="2.3" opacity="0.35"/><rect x="304.2" y="408.7" width="14.2" height="1.2"/><rect x="304.2" y="410.7" width="14.2" height="1.2"/><rect x="304.2" y="413.1" width="14.2" height="0.9" opacity="0.45"/><rect x="304.2" y="415.1" width="14.2" height="3.0" opacity="0.55"/><rect x="304.2" y="419.9" width="14.2" height="1.2"/><rect x="304.2" y="421.9" width="9.7" height="1.2"/></g></g>
<circle cx="683" cy="412" r="27.6" fill="#e3ecfd" stroke="#cfdefc" stroke-width="0.9"/>
<g transform="translate(675 404)" fill="none" stroke="#0d5efc" stroke-width="1.8" stroke-linecap="round"><path d="M2.6 4.2 A6.3 6.3 0 0 1 14.3 6.9"/><path d="M1.4 9.1 A6.3 6.3 0 0 0 13.2 11.8"/></g><g transform="translate(675 404)" fill="#0d5efc"><path d="M0.4 0.5 L0.6 6.1 L6.0 6.1 Z"/><path d="M15.6 15.5 L15.4 9.9 L10 9.9 Z"/></g>
<circle cx="1053" cy="412" r="27.6" fill="#e3ecfd" stroke="#cfdefc" stroke-width="0.9"/>
<g fill="none" stroke="#0d5efc" stroke-width="1.6" stroke-linecap="round"><circle cx="1048" cy="406.9" r="2.2"/><circle cx="1057.9" cy="416.8" r="2.3"/><line x1="1046.5" y1="418.4" x2="1059.6" y2="405.4"/></g>
<circle cx="1423" cy="412" r="27.6" fill="#e3ecfd" stroke="#cfdefc" stroke-width="0.9"/>
<g fill="none" stroke="#0d5efc" stroke-width="1.6" stroke-linecap="round"><circle cx="1418" cy="406.9" r="2.2"/><circle cx="1427.9" cy="416.8" r="2.3"/><line x1="1416.5" y1="418.4" x2="1429.6" y2="405.4"/></g>
<circle cx="1793" cy="412" r="27.6" fill="#e3ecfd" stroke="#cfdefc" stroke-width="0.9"/>
<g fill="none" stroke="#0d5efc" stroke-width="1.6" stroke-linecap="round"><circle cx="1788" cy="406.9" r="2.2"/><circle cx="1797.9" cy="416.8" r="2.3"/><line x1="1786.5" y1="418.4" x2="1799.6" y2="405.4"/></g>
<circle cx="313" cy="615" r="27.6" fill="#e3ecfd" stroke="#cfdefc" stroke-width="0.9"/>
<g fill="none" stroke="#0d5efc" stroke-width="1.6" stroke-linecap="round"><circle cx="308" cy="609.9" r="2.2"/><circle cx="317.9" cy="619.8" r="2.3"/><line x1="306.5" y1="621.4" x2="319.6" y2="608.4"/></g>
<circle cx="683" cy="615" r="27.6" fill="#e3ecfd" stroke="#cfdefc" stroke-width="0.9"/>
<g fill="none" stroke="#0d5efc" stroke-width="1.6" stroke-linecap="round"><circle cx="678" cy="609.9" r="2.2"/><circle cx="687.9" cy="619.8" r="2.3"/><line x1="676.5" y1="621.4" x2="689.6" y2="608.4"/></g>
<circle cx="1053" cy="615" r="27.6" fill="#e3ecfd" stroke="#cfdefc" stroke-width="0.9"/>
<g fill="none" stroke="#0d5efc" stroke-width="1.6" stroke-linecap="round"><circle cx="1048" cy="609.9" r="2.2"/><circle cx="1057.9" cy="619.8" r="2.3"/><line x1="1046.5" y1="621.4" x2="1059.6" y2="608.4"/></g>
<circle cx="1423" cy="615" r="27.6" fill="#e3ecfd" stroke="#cfdefc" stroke-width="0.9"/>
<g fill="none" stroke="#0d5efc" stroke-width="1.6" stroke-linecap="round"><circle cx="1418" cy="609.9" r="2.2"/><circle cx="1427.9" cy="619.8" r="2.3"/><line x1="1416.5" y1="621.4" x2="1429.6" y2="608.4"/></g>
<circle cx="1793" cy="615" r="27.6" fill="#e3ecfd" stroke="#cfdefc" stroke-width="0.9"/>
<rect x="1784.7" y="605.1" width="17.4" height="13.9" rx="1" fill="#0d5efc"/><rect x="1786.30" y="606.70" width="3.2" height="3.2" fill="#e3ecfd"/><rect x="1793.70" y="606.70" width="3.2" height="3.2" fill="#e3ecfd"/><rect x="1790.00" y="610.40" width="3.2" height="3.2" fill="#e3ecfd"/><rect x="1797.40" y="610.40" width="3.2" height="3.2" fill="#e3ecfd"/><rect x="1786.30" y="614.10" width="3.2" height="3.2" fill="#e3ecfd"/><rect x="1793.70" y="614.10" width="3.2" height="3.2" fill="#e3ecfd"/><rect x="1784.6" y="605.1" width="1.7" height="19.6" rx="0.8" fill="#0d5efc"/>
<circle cx="313" cy="818" r="27.6" fill="#e3ecfd" stroke="#cfdefc" stroke-width="0.9"/>
<path transform="translate(0 0)" d="M299 826.3C301 818.5 306.5 810.8 317.4 809.6L318.3 805.1L327.6 813.5L318.3 821.9L318.1 817.4C311 816.8 304 819.2 299 826.3Z" fill="none" stroke="#0d5efc" stroke-width="1.4" stroke-linejoin="round"/>
<circle cx="683" cy="818" r="27.6" fill="#e3ecfd" stroke="#cfdefc" stroke-width="0.9"/>
<g transform="translate(0 0)" fill="none" stroke="#0d5efc" stroke-width="1.4" stroke-linecap="round" stroke-linejoin="round"><path d="M687.2 810H676.8Q674.6 810 674.6 812.2V822"/><path d="M691.6 811.2V820.8Q691.6 823 689.4 823H683.6L678.5 827.1L677.7 823.3"/><line x1="674.3" y1="826.4" x2="691.6" y2="809.2" stroke-width="1.6"/><line x1="681.3" y1="814.7" x2="684.2" y2="814.7"/><line x1="686.5" y1="814.7" x2="688.7" y2="814.7"/><line x1="683.6" y1="818.4" x2="687.5" y2="818.4"/></g><g fill="#0d5efc" transform="translate(0 0)"><circle cx="678.2" cy="814.7" r="0.9"/><circle cx="678.2" cy="818.2" r="0.9"/></g>
<circle cx="1053" cy="818" r="27.6" fill="#e3ecfd" stroke="#cfdefc" stroke-width="0.9"/>
<g fill="none" stroke="#0d5efc" stroke-width="1.6" stroke-linecap="round"><circle cx="1048" cy="812.9" r="2.2"/><circle cx="1057.9" cy="822.8" r="2.3"/><line x1="1046.5" y1="824.4" x2="1059.6" y2="811.4"/></g>
<circle cx="1423" cy="818" r="27.6" fill="#e3ecfd" stroke="#cfdefc" stroke-width="0.9"/>
<g transform="translate(1110 406)"><path d="M306.9 399V396.2H328V421.1H325" fill="rgba(13,94,252,0.28)" stroke="#0d5efc" stroke-width="1.5"/><path d="M303.8 402V399H325V424.4H321.9" fill="rgba(13,94,252,0.18)" stroke="#0d5efc" stroke-width="1.5"/><rect x="301.1" y="402.6" width="20.1" height="23.7" fill="#eef3ff" stroke="#0d5efc" stroke-width="1.5"/><g fill="#0d5efc"><rect x="304.2" y="406.3" width="14.2" height="2.3" opacity="0.35"/><rect x="304.2" y="408.7" width="14.2" height="1.2"/><rect x="304.2" y="410.7" width="14.2" height="1.2"/><rect x="304.2" y="413.1" width="14.2" height="0.9" opacity="0.45"/><rect x="304.2" y="415.1" width="14.2" height="3.0" opacity="0.55"/><rect x="304.2" y="419.9" width="14.2" height="1.2"/><rect x="304.2" y="421.9" width="9.7" height="1.2"/></g></g>
<path d="M1187 314.6L1192 319.6L1197 314.6" fill="none" stroke="#cccccc" stroke-width="1.6"/>
<g fill="none" stroke="#111" stroke-width="1.6"><rect x="904.8" y="308.6" width="13.4" height="13.8"/></g><rect x="904.8" y="308" width="13.4" height="2.2" fill="#111"/><rect x="907.0" y="306.8" width="1.6" height="2" fill="#111"/><rect x="914.4" y="306.8" width="1.6" height="2" fill="#111"/>
<g fill="none" stroke="#111" stroke-width="1.6"><rect x="1053.0" y="308.6" width="13.4" height="13.8"/></g><rect x="1053.0" y="308" width="13.4" height="2.2" fill="#111"/><rect x="1055.2" y="306.8" width="1.6" height="2" fill="#111"/><rect x="1062.6" y="306.8" width="1.6" height="2" fill="#111"/>
</svg>
</body></html>
